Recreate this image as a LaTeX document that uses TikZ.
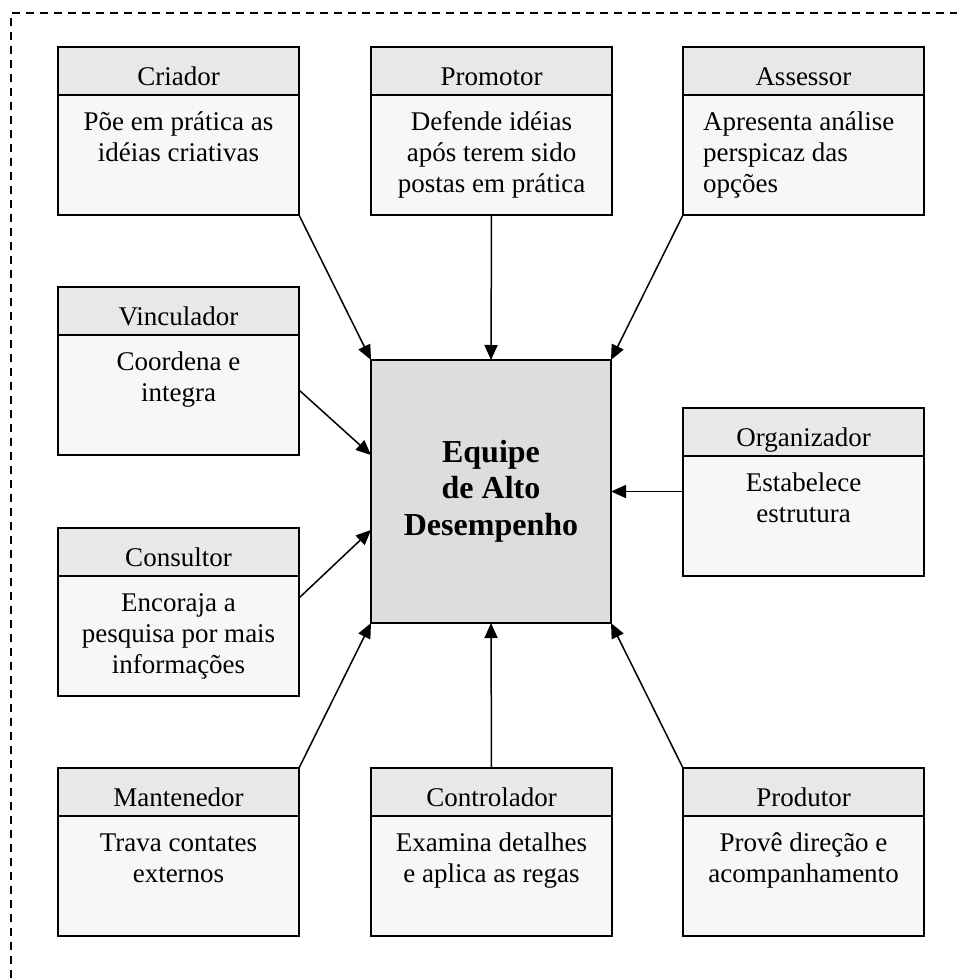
\documentclass[tikz,border=0pt]{standalone}
\usepackage{fontspec}
\setmainfont{Liberation Serif}
\usetikzlibrary{arrows.meta}
\definecolor{hdrgray}{HTML}{E8E8E8}
\definecolor{bodygray}{HTML}{F7F7F7}
\definecolor{centergray}{HTML}{DDDDDD}
\tikzset{
  hdr/.style={draw, line width=2pt, fill=hdrgray, minimum width=241pt, minimum height=48pt, anchor=north west, inner sep=0pt, outer sep=0pt},
  bodybox/.style={draw, line width=2pt, fill=bodygray, minimum width=241pt, minimum height=120pt, anchor=north west, inner sep=0pt, outer sep=0pt},
  ttl/.style={anchor=base, inner sep=0pt, font=\fontsize{27}{31}\selectfont},
  txt/.style={anchor=north, inner sep=0pt, align=center, font=\fontsize{27}{31}\selectfont},
  txtl/.style={anchor=north west, inner sep=0pt, align=left, font=\fontsize{27}{31}\selectfont},
  arr/.style={line width=1.5pt, -{Triangle[length=15pt,width=13pt]}},
  border/.style={line width=1.5pt, dash pattern=on 8pt off 6pt}
}
\newcommand\rolebox[5]{%
  \node[bodybox] (#1) at (#2,#3+48) {};
  \node[hdr] (#1h) at (#2,#3) {};
  \node[ttl] (#1t) at (#2+120.5,#3+38) {#4};
  \node[txt] (#1b) at (#2+120.5,#3+61) {\rule{0pt}{22pt}#5};
}
\begin{document}
\begin{tikzpicture}[x=1pt,y=-1pt]
\useasboundingbox (0,0) rectangle (962,978);
\draw[border] (11,978) -- (11,13) -- (957,13);

% central box
\node[draw, line width=2pt, fill=centergray, minimum width=240pt, minimum height=263pt, anchor=north west, inner sep=0pt, outer sep=0pt] (center) at (371,360) {};
\node[anchor=north, inner sep=0pt, align=center, font=\fontsize{32}{36.5}\selectfont\bfseries] (centert) at (491,438) {\rule{0pt}{24pt}Equipe\\de Alto\\Desempenho};

% top row
\rolebox{cr}{58}{47}{Criador}{Põe em prática as\\idéias criativas}
\rolebox{pr}{371}{47}{Promotor}{Defende idéias\\após terem sido\\postas em prática}
\node[bodybox] (as) at (683,95) {};
\node[hdr] (ash) at (683,47) {};
\node[ttl] (ast) at (803.5,85) {Assessor};
\node[txtl] (asb) at (703,108) {\rule{0pt}{22pt}Apresenta análise\\perspicaz das\\opções};

% middle
\rolebox{vi}{58}{287}{Vinculador}{Coordena e\\integra}
\rolebox{co}{58}{528}{Consultor}{Encoraja a\\pesquisa por mais\\informações}
\rolebox{or}{683}{408}{Organizador}{Estabelece\\estrutura}

% bottom row
\rolebox{ma}{58}{768}{Mantenedor}{Trava contates\\externos}
\rolebox{ct}{371}{768}{Controlador}{Examina detalhes\\e aplica as regas}
\rolebox{pd}{683}{768}{Produtor}{Provê direção e\\acompanhamento}

% arrows
\draw[arr] (cr.south east) -- (center.north west);
\draw[arr] (pr.south) -- (center.north);
\draw[arr] (as.south west) -- (center.north east);
\draw[arr] ([yshift=5pt]vi.east) -- ([yshift=36.5pt]center.west);
\draw[arr] ([yshift=38pt]co.east) -- ([yshift=-38.5pt]center.west);
\draw[arr] (center.east -| or.west) -- (center.east);
\draw[arr] (mah.north east) -- (center.south west);
\draw[arr] (cth.north) -- (center.south);
\draw[arr] (pdh.north west) -- (center.south east);
\end{tikzpicture}
\end{document}
